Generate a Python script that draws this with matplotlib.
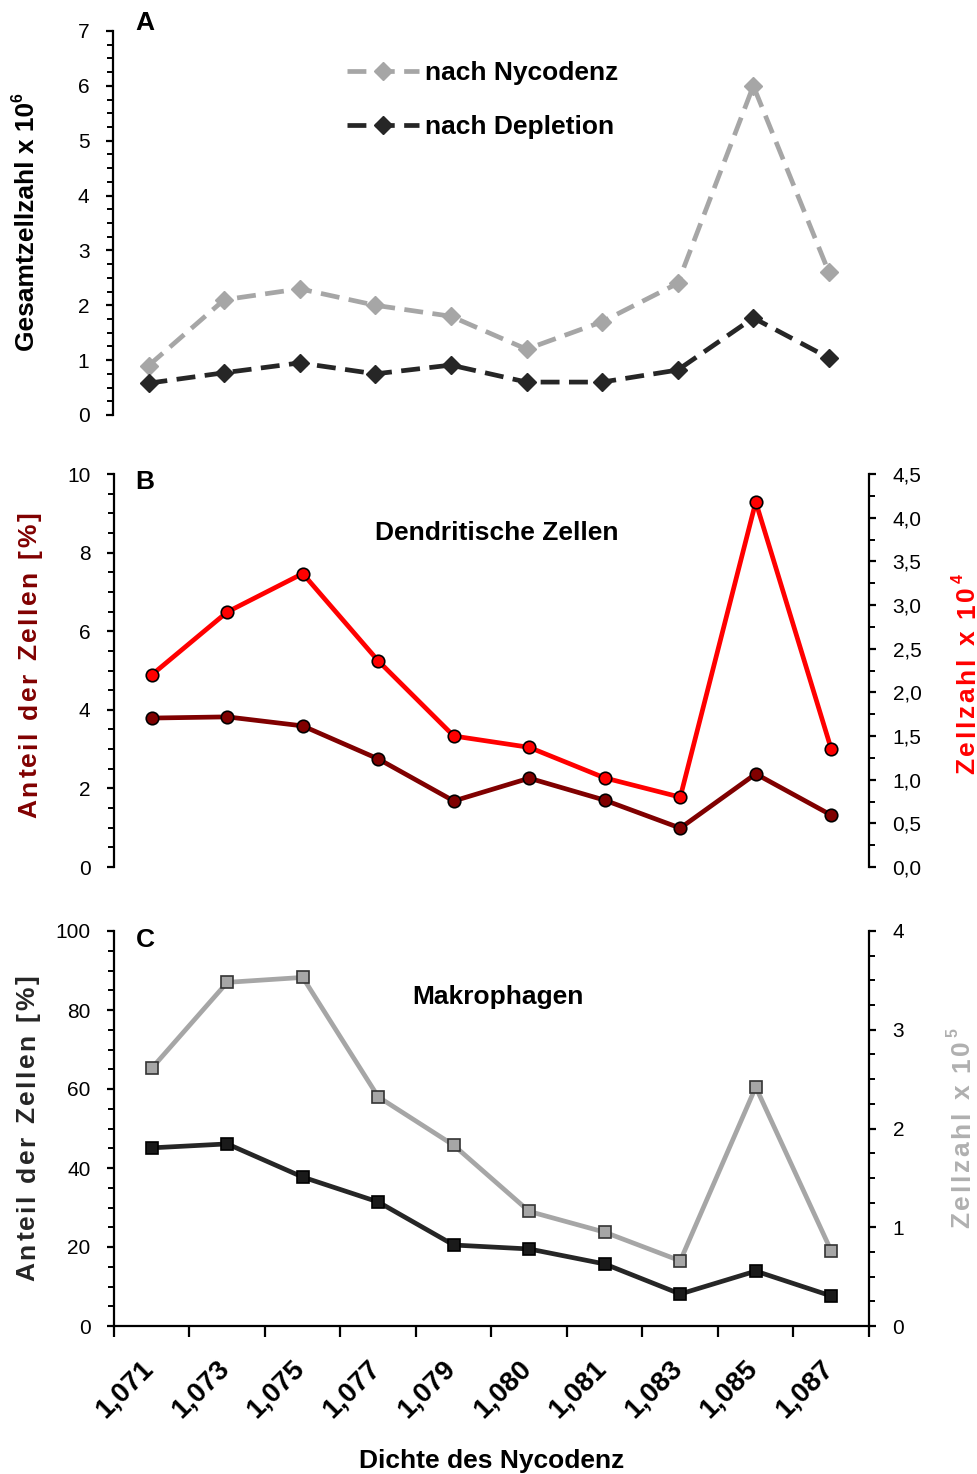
import matplotlib
matplotlib.use("Agg")
import matplotlib.pyplot as plt
import matplotlib.transforms as mtransforms
from matplotlib.font_manager import FontProperties, findfont, get_font
from matplotlib.ticker import MultipleLocator, FixedLocator, NullFormatter, FuncFormatter

# ---------------- data ----------------
dichte = ["1,071", "1,073", "1,075", "1,077", "1,079",
          "1,080", "1,081", "1,083", "1,085", "1,087"]

# A: total cell count x 10^6
gesamt_nycodenz = [0.9, 2.1, 2.3, 2.0, 1.8, 1.2, 1.7, 2.4, 6.0, 2.6]
gesamt_depletion = [0.58, 0.77, 0.95, 0.75, 0.91, 0.60, 0.60, 0.82, 1.77, 1.04]

# B: dendritic cells
dc_anteil = [3.79, 3.82, 3.59, 2.75, 1.68, 2.26, 1.70, 0.99, 2.37, 1.32]   # %
dc_zahl = [2.20, 2.92, 3.36, 2.36, 1.50, 1.37, 1.02, 0.80, 4.18, 1.35]     # x 10^4

# C: macrophages
mp_anteil = [45.1, 46.1, 37.7, 31.4, 20.5, 19.5, 15.7, 8.1, 13.9, 7.6]     # %
mp_zahl = [2.61, 3.48, 3.53, 2.32, 1.83, 1.16, 0.95, 0.66, 2.42, 0.76]     # x 10^5

# ---------------- style ----------------
W, H, DPI = 978, 1474, 100
FONT = "Liberation Sans"
BIG = 19
TICK = 15
LW = 3.4
GRAY = "#A6A6A6"
DARK = "#262626"
RED = "#FF0000"
MAROON = "#800000"

plt.rcParams["font.family"] = [FONT, "DejaVu Sans"]
plt.rcParams["axes.linewidth"] = 1.6

fig = plt.figure(figsize=(W / DPI, H / DPI), dpi=DPI)
fig.patch.set_facecolor("white")


def px_axes(left, top, right, bottom):
    return fig.add_axes([left / W, 1 - bottom / H, (right - left) / W, (bottom - top) / H])


def style_y(ax, major, minor):
    ax.yaxis.set_major_locator(MultipleLocator(major))
    ax.yaxis.set_minor_locator(MultipleLocator(minor))
    ax.tick_params(axis="y", which="major", direction="out", length=5, width=1.6,
                   labelsize=TICK, pad=12)
    ax.tick_params(axis="y", which="minor", direction="out", length=4, width=1.4)


xs = list(range(len(dichte)))

bold = FontProperties(family=FONT, weight="bold")
ft = get_font(findfont(bold))


def advance(text, size):
    ft.set_size(size, DPI)
    return sum(ft.load_char(ord(ch)).linearHoriAdvance / 65536.0 for ch in text)


def vertical_label(segments, cx, cy, color, tracking=0.0, size=BIG):
    """Bold text read bottom-to-top, centred at (cx, cy) in pixels.
    segments: (text, size_scale, raise_fraction, spread) -- spread segments are
    drawn char by char with extra tracking, others as one piece."""
    pieces = []
    for text, scale, rise, spread in segments:
        s = size * scale
        r = rise * size * DPI / 72
        if spread:
            pieces += [(ch, s, r, True) for ch in text]
        else:
            pieces.append((text, s, r, False))
    advs = [advance(t, s) for t, s, _, _ in pieces]
    total = sum(advs) + tracking * (len(pieces) - 1)
    cap = 0.716 * size * DPI / 72
    xb = cx + cap / 2
    y = cy + total / 2
    for (t, s, r, _), a in zip(pieces, advs):
        fig.text((xb - r) / W, 1 - y / H, t, rotation=90, rotation_mode="anchor",
                 ha="left", va="baseline", fontsize=s, fontweight="bold",
                 color=color, family=[FONT, "DejaVu Sans"])
        y -= a + tracking


# ---------------- panel A ----------------
axA = px_axes(113, 31, 869, 415)
axA.plot(xs, gesamt_nycodenz, color=GRAY, lw=LW, dashes=(4, 2), marker="D",
         ms=9, mfc=GRAY, mec=GRAY, label="nach Nycodenz")
axA.plot(xs, gesamt_depletion, color=DARK, lw=LW, dashes=(4, 2), marker="D",
         ms=9, mfc=DARK, mec=DARK, label="nach Depletion")
axA.set_xlim(-0.47, 9.53)
axA.set_ylim(0, 7)
for s in ("top", "right", "bottom"):
    axA.spines[s].set_visible(False)
axA.set_xticks([])
style_y(axA, 1, 0.25)
axA.legend(loc="upper left", bbox_to_anchor=(210 / 756, 1 - 6 / 384),
           frameon=False, handlelength=2.75, handletextpad=0.2,
           labelspacing=1.15, prop=FontProperties(family=FONT, weight="bold", size=BIG))
fig.text(145 / W, 1 - 23 / H, "A", ha="center", va="center", fontsize=BIG, fontweight="bold")
vertical_label([("Gesamtzellzahl x 10", 1, 0, False), ("6", 0.6, 0.45, False)],
               25, 222, "black")

# ---------------- panel B ----------------
axB = px_axes(114, 474, 869, 867)
axB.plot(xs, dc_anteil, color=MAROON, lw=LW, marker="o", ms=9, mfc=MAROON,
         mec="black", mew=1.2, zorder=3)
axB.set_xlim(-0.5, 9.5)
axB.set_ylim(0, 10)
axB.set_xticks([])
for s in ("top", "bottom", "right"):
    axB.spines[s].set_visible(False)
style_y(axB, 2, 0.5)

axB2 = axB.twinx()
axB2.plot(xs, dc_zahl, color=RED, lw=LW, marker="o", ms=9, mfc=RED,
          mec="black", mew=1.2, zorder=3)
axB2.set_ylim(0, 4.5)
for s in ("top", "bottom", "left"):
    axB2.spines[s].set_visible(False)
style_y(axB2, 0.5, 0.25)
axB2.yaxis.set_major_formatter(FuncFormatter(lambda v, p: f"{v:.1f}".replace(".", ",")))
fig.text(145 / W, 1 - 482 / H, "B", ha="center", va="center", fontsize=BIG, fontweight="bold")
fig.text(497 / W, 1 - 533 / H, "Dendritische Zellen", ha="center", va="center",
         fontsize=BIG, fontweight="bold")
vertical_label([("Anteil der Zellen [%]", 1, 0, True)], 27, 665, MAROON, tracking=2.6)
vertical_label([("Zellzahl x 10", 1, 0, True), ("4", 0.6, 0.45, True)],
               965, 674, RED, tracking=2.7)

# ---------------- panel C ----------------
axC = px_axes(114, 931, 869, 1326)
axC.plot(xs, mp_anteil, color=DARK, lw=LW, marker="s", ms=9, mfc="#1A1A1A",
         mec="black", mew=1.2, zorder=3)
axC.set_xlim(-0.5, 9.5)
axC.set_ylim(0, 100)
for s in ("top", "right"):
    axC.spines[s].set_visible(False)
style_y(axC, 20, 5)
axC.xaxis.set_major_locator(FixedLocator([i - 0.5 for i in range(len(dichte) + 1)]))
axC.xaxis.set_major_formatter(NullFormatter())
axC.xaxis.set_minor_locator(FixedLocator(xs))
axC.set_xticklabels(dichte, minor=True, rotation=45, ha="right", va="top",
                    fontsize=20, fontweight="bold")
axC.tick_params(axis="x", which="major", direction="out", length=8, width=1.6)
axC.tick_params(axis="x", which="minor", length=0, pad=21)
shift = mtransforms.ScaledTranslation(7 / DPI, 0, fig.dpi_scale_trans)
for lab in axC.get_xticklabels(minor=True):
    lab.set_transform(lab.get_transform() + shift)
fig.text(492 / W, 1 - 1461 / H, "Dichte des Nycodenz", ha="center", va="center",
         fontsize=BIG, fontweight="bold")

axC2 = axC.twinx()
axC2.plot(xs, mp_zahl, color=GRAY, lw=LW, marker="s", ms=9, mfc=GRAY,
          mec="#333333", mew=1.2, zorder=3)
axC2.set_ylim(0, 4)
for s in ("top", "left", "bottom"):
    axC2.spines[s].set_visible(False)
style_y(axC2, 1, 0.25)
fig.text(145 / W, 1 - 940 / H, "C", ha="center", va="center", fontsize=BIG, fontweight="bold")
fig.text(498 / W, 1 - 997 / H, "Makrophagen", ha="center", va="center",
         fontsize=BIG, fontweight="bold")
vertical_label([("Anteil der Zellen [%]", 1, 0, True)], 25, 1128, DARK, tracking=2.6)
vertical_label([("Zellzahl x 10", 1, 0, True), ("5", 0.6, 0.45, True)],
               960, 1128, "#B0B0B0", tracking=2.7)

fig.savefig("out.png", dpi=DPI, facecolor="white")
